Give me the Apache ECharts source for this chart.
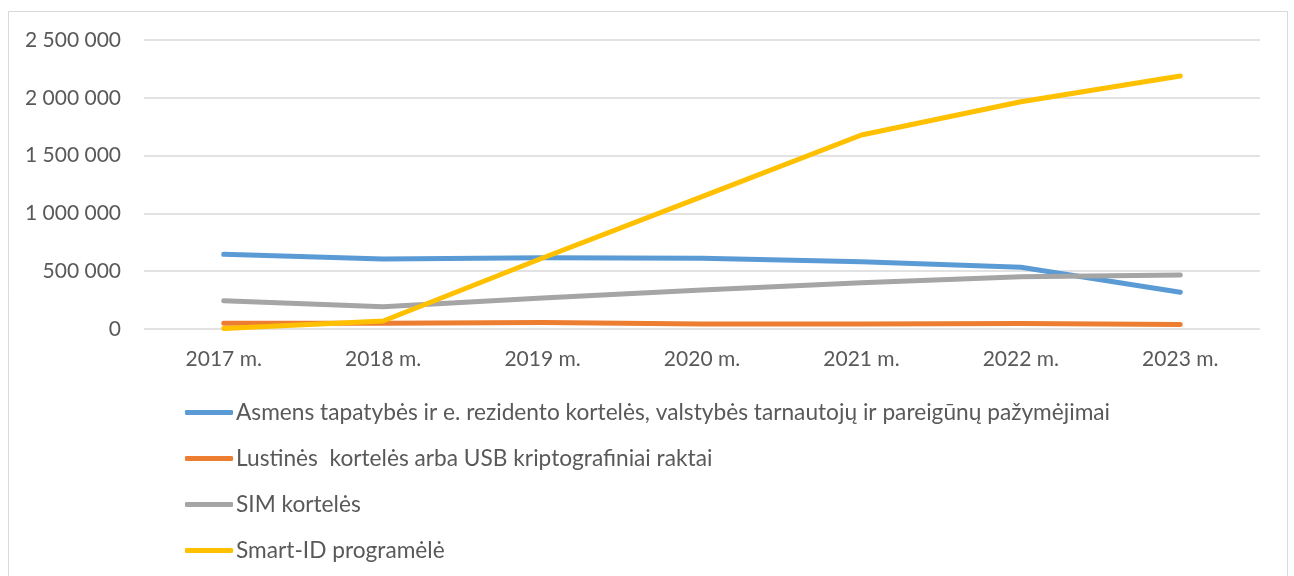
<!DOCTYPE html>
<html>
<head>
<meta charset="utf-8">
<script src="https://cdn.jsdelivr.net/npm/echarts@6/dist/echarts.min.js"></script>
<style>
html,body{margin:0;padding:0;background:#fff;}
#chart{width:1294px;height:576px;}
</style>
</head>
<body>
<div id="chart"></div>
<script>
const categories = ['2017 m.', '2018 m.', '2019 m.', '2020 m.', '2021 m.', '2022 m.', '2023 m.'];
const seriesNames = [
  'Asmens tapatybės ir e. rezidento kortelės, valstybės tarnautojų ir pareigūnų pažymėjimai',
  'Lustinės  kortelės arba USB kriptografiniai raktai',
  'SIM kortelės',
  'Smart-ID programėlė'
];
const asmensValues = [646000, 605000, 617000, 611000, 582000, 534000, 318000];
const lustinesValues = [50000, 49000, 56000, 44000, 44000, 47000, 40000];
const simValues = [245000, 193000, 268000, 337000, 400000, 452000, 467000];
const smartIdValues = [5000, 69000, 614000, 1145000, 1678000, 1966000, 2189000];
const colors = ['#5B9BD5', '#ED7D31', '#A5A5A5', '#FFC000'];

const FONT = 'Lato';
const chart = echarts.init(document.getElementById('chart'));
const mk = (name, data, color) => ({
  name, type: 'line', data, symbol: 'none', smooth: false,
  lineStyle: { color, width: 5, cap: 'round', join: 'round' },
  itemStyle: { color }
});
chart.setOption({
  animation: false,
  backgroundColor: '#fff',
  textStyle: { fontFamily: FONT },
  graphic: [{
    type: 'rect', shape: { x: 8.5, y: 11.5, width: 1279, height: 580 },
    style: { fill: 'none', stroke: '#D9D9D9', lineWidth: 1 }, silent: true
  }],
  grid: { left: 144, right: 34, top: 40, bottom: 247, containLabel: false },
  xAxis: {
    type: 'category', data: categories, boundaryGap: true,
    axisLine: { show: false }, axisTick: { show: false },
    axisLabel: { color: '#595959', fontSize: 21, fontFamily: FONT, margin: 20 }
  },
  yAxis: {
    type: 'value', min: 0, max: 2500000, interval: 500000,
    axisLine: { show: false }, axisTick: { show: false },
    splitLine: { lineStyle: { color: '#D9D9D9', width: 1.5 } },
    axisLabel: {
      color: '#595959', fontSize: 21, fontFamily: FONT, margin: 23,
      formatter: v => String(v).replace(/\B(?=(\d{3})+(?!\d))/g, ' ')
    }
  },
  legend: {
    orient: 'vertical', left: 185, top: 401, padding: 0,
    itemWidth: 48, itemHeight: 5, itemGap: 23,
    icon: 'roundRect',
    textStyle: { color: '#595959', fontSize: 22.7, fontFamily: FONT, lineHeight: 22, padding: [0, 0, 0, -2] },
    data: seriesNames
  },
  series: [
    mk(seriesNames[0], asmensValues, colors[0]),
    mk(seriesNames[1], lustinesValues, colors[1]),
    mk(seriesNames[2], simValues, colors[2]),
    mk(seriesNames[3], smartIdValues, colors[3])
  ]
});
</script>
</body>
</html>
